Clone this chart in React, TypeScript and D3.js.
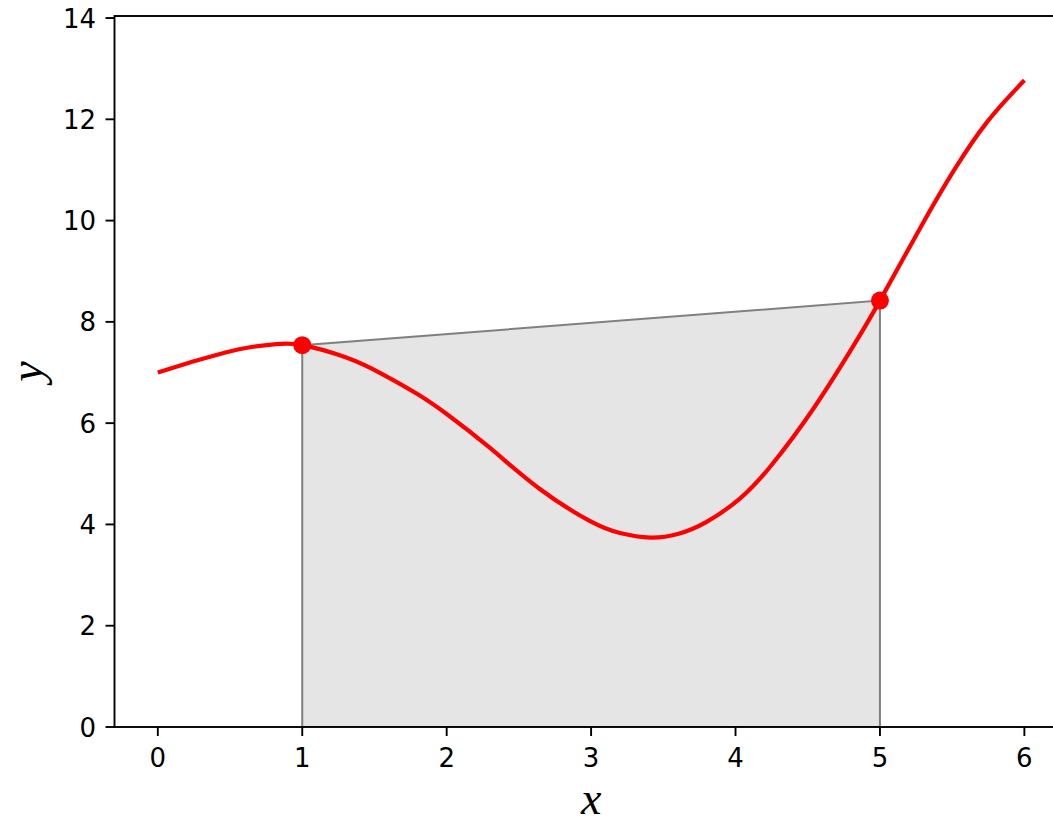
import React from "react";
import * as d3 from "d3";

const curveX = [0, 0.2, 0.41, 0.6, 0.82, 1.0, 1.3, 1.56, 1.8, 2.0, 2.3, 2.645, 2.99, 3.2, 3.41, 3.6, 3.8, 4.03, 4.24, 4.54, 4.815, 5.0, 5.28, 5.51, 5.74, 6.0];
const curveY = [7.0, 7.18, 7.35, 7.48, 7.56, 7.54, 7.3, 6.96, 6.57, 6.18, 5.51, 4.7, 4.07, 3.83, 3.74, 3.81, 4.05, 4.51, 5.14, 6.29, 7.52, 8.42, 9.86, 10.98, 11.94, 12.77];
const trapX = [1, 5];
const trapY = [7.54, 8.42];
const xTicks = [0, 1, 2, 3, 4, 5, 6];
const yTicks = [0, 2, 4, 6, 8, 10, 12, 14];

const W = 1053;
const H = 824;
const left = 114.5;
const right = 1067.7;
const top = 16;
const bottom = 727;

export default function App() {
  const x = d3.scaleLinear().domain([-0.3, 6.3]).range([left, right]);
  const y = d3.scaleLinear().domain([0, 14.04]).range([bottom, top]);

  const pts: [number, number][] = curveX.map((v, i) => [v, curveY[i]]);
  const line = d3
    .line<[number, number]>()
    .x((d) => x(d[0]))
    .y((d) => y(d[1]))
    .curve(d3.curveNatural);

  const poly: [number, number][] = [
    [trapX[0], 0],
    [trapX[0], trapY[0]],
    [trapX[1], trapY[1]],
    [trapX[1], 0],
  ];
  const polyPath = d3
    .line<[number, number]>()
    .x((d) => x(d[0]))
    .y((d) => y(d[1]))(poly) + "Z";

  const tickFont = "'DejaVu Sans', sans-serif";
  const labelFont = "'Liberation Serif', 'DejaVu Serif', serif";

  return (
    <svg
      width={W}
      height={H}
      style={{ position: "absolute", left: 0, top: 0, background: "#fff" }}
    >
      <defs>
        <clipPath id="plotclip">
          <rect x={left} y={top} width={right - left} height={bottom - top} />
        </clipPath>
      </defs>
      <rect x={0} y={0} width={W} height={H} fill="#fff" />
      <g clipPath="url(#plotclip)">
        <path d={polyPath} fill="#e5e5e5" stroke="#808080" strokeWidth={2} />
        <path
          d={line(pts) || ""}
          fill="none"
          stroke="#ff0000"
          strokeWidth={4.2}
          strokeLinecap="butt"
          strokeLinejoin="round"
        />
        {trapX.map((v, i) => (
          <circle key={i} cx={x(v)} cy={y(trapY[i])} r={9} fill="#ff0000" />
        ))}
      </g>
      <rect
        x={left}
        y={top}
        width={right - left}
        height={bottom - top}
        fill="none"
        stroke="#000"
        strokeWidth={1.9}
      />
      {xTicks.map((t) => (
        <g key={"xt" + t}>
          <line x1={x(t)} x2={x(t)} y1={bottom} y2={bottom + 9} stroke="#000" strokeWidth={1.9} />
          <text
            x={x(t)}
            y={767}
            textAnchor="middle"
            fontFamily={tickFont}
            fontSize={26}
            fill="#000"
          >
            {t}
          </text>
        </g>
      ))}
      {yTicks.map((t) => (
        <g key={"yt" + t}>
          <line x1={left - 9} x2={left} y1={y(t)} y2={y(t)} stroke="#000" strokeWidth={1.9} />
          <text
            x={96}
            y={y(t) + 9.6}
            textAnchor="end"
            fontFamily={tickFont}
            fontSize={26}
            fill="#000"
          >
            {t}
          </text>
        </g>
      ))}
      <text
        x={(left + right) / 2}
        y={814}
        textAnchor="middle"
        fontFamily={labelFont}
        fontStyle="italic"
        fontSize={46}
        fill="#000"
      >
        x
      </text>
      <text
        transform={`translate(42, ${(top + bottom) / 2}) rotate(-90)`}
        textAnchor="middle"
        fontFamily={labelFont}
        fontStyle="italic"
        fontSize={46}
        fill="#000"
      >
        y
      </text>
    </svg>
  );
}
